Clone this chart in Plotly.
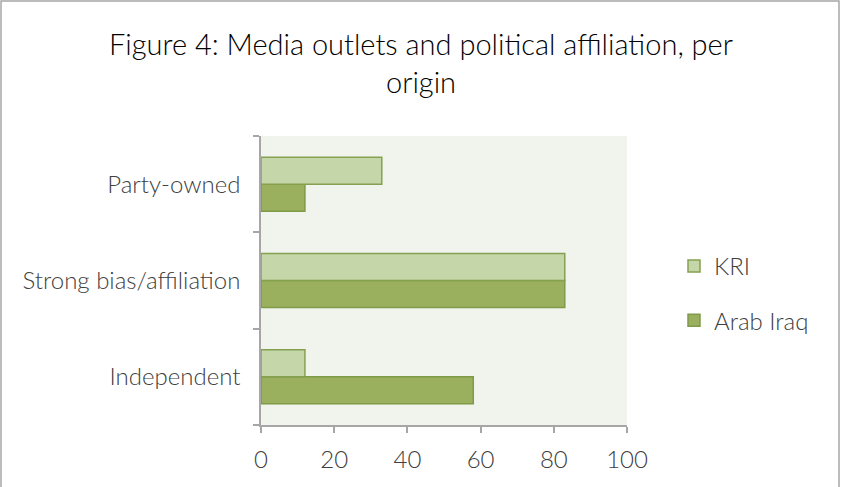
import plotly.graph_objects as go

categories = ["Independent", "Strong bias/affiliation", "Party-owned"]
kri = [12, 83, 33]
arab_iraq = [58, 83, 12]
tick_vals = [0, 20, 40, 60, 80, 100]

L, R, T, B = 261, 215, 136, 62
W, H = 842, 487
pw, ph = W - L - R, H - T - B

def px_x(p):
    return (p - L) / pw

def px_y(p):
    return (H - B - p) / ph

fig = go.Figure()
fig.add_trace(go.Bar(
    y=categories, x=arab_iraq, name="Arab Iraq", orientation="h",
    marker=dict(color="#9bb05e", line=dict(color="#7f9a48", width=1.5)),
    legendgroup="a", legendrank=2,
))
fig.add_trace(go.Bar(
    y=categories, x=kri, name="KRI", orientation="h",
    marker=dict(color="#c5d6a8", line=dict(color="#86a052", width=1.5)),
    legendgroup="b", legendrank=1,
))

fig.update_layout(
    width=W, height=H,
    margin=dict(l=L, r=R, t=T, b=B),
    paper_bgcolor="white",
    plot_bgcolor="#f1f4ed",
    barmode="group",
    bargap=0.44,
    bargroupgap=0,
    font=dict(family="Lato", color="#404040", size=24, weight=300),
    title=dict(
        text="Figure 4: Media outlets and political affiliation, per<br>origin",
        x=0.5, xref="container", xanchor="center",
        y=1 - 55 / H, yanchor="middle", yref="container",
        font=dict(family="Lato", size=29, color="black", weight=300),
    ),
    xaxis=dict(
        range=[0, 100], tickvals=tick_vals, showgrid=False, zeroline=False,
        showline=True, linecolor="#a6a6a6", linewidth=1.5,
        ticks="outside", ticklen=6, tickcolor="#a6a6a6", tickwidth=1.5,
        ticklabelstandoff=6,
        tickfont=dict(size=24, color="#404040", weight=300),
    ),
    yaxis=dict(
        categoryorder="array", categoryarray=categories,
        showgrid=False, showline=True, linecolor="#a6a6a6", linewidth=1.5,
        ticks="outside", ticklen=6, tickcolor="#a6a6a6", tickwidth=1.5,
        tickson="boundaries", ticklabelstandoff=14,
        tickfont=dict(size=24, color="#404040", weight=300),
    ),
    legend=dict(
        x=px_x(674), y=px_y(244), xanchor="left", yanchor="top",
        traceorder="grouped", tracegroupgap=20,
        font=dict(size=24, color="#404040", weight=300),
        itemwidth=30, bgcolor="rgba(0,0,0,0)",
    ),
    shapes=[dict(
        type="rect", xref="paper", yref="paper",
        x0=px_x(1), x1=px_x(839), y0=px_y(492), y1=px_y(1),
        line=dict(color="#a6a6a6", width=1.5), fillcolor="rgba(0,0,0,0)",
        layer="below",
    )],
)

fig.write_html("out.html", post_script="document.body.style.margin='0px';",
               config={"displayModeBar": False})
